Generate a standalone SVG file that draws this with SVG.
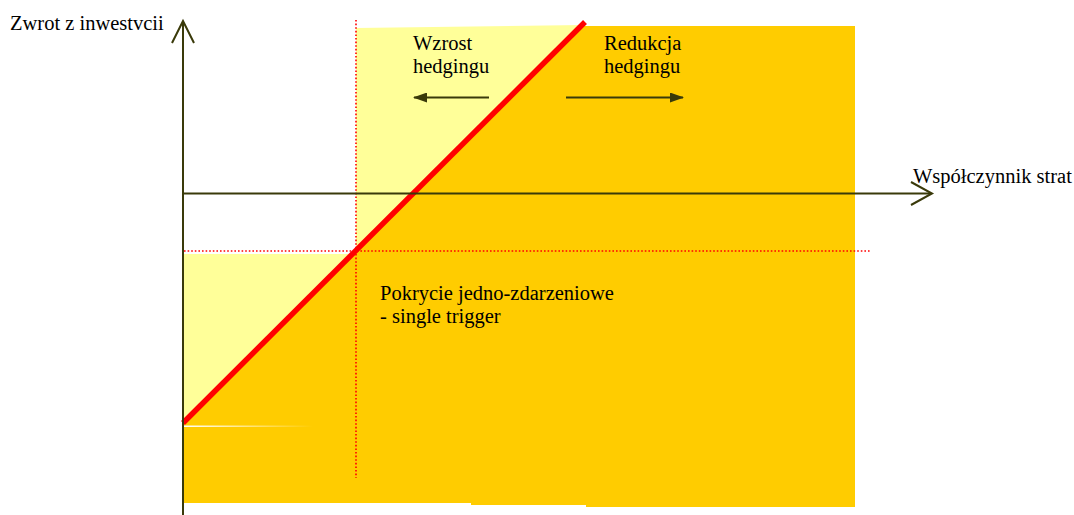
<svg xmlns="http://www.w3.org/2000/svg" width="1074" height="515" viewBox="0 0 1074 515">
<defs>
<style>
.t{font-family:"Liberation Serif","Times New Roman",serif;font-size:20.5px;fill:#000}
.ax{stroke:#3a3a0a;stroke-width:2;fill:none}
.dot{stroke:#ff0000;stroke-width:1.6;stroke-dasharray:1.6 2;fill:none}
</style>
<linearGradient id="wg" x1="0" x2="1" y1="0" y2="0">
<stop offset="0" stop-color="#ffffff"/>
<stop offset="1" stop-color="#ffffff" stop-opacity="0"/>
</linearGradient>
<marker id="ah" viewBox="0 0 14 10" refX="13" refY="5" markerWidth="14" markerHeight="10" markerUnits="userSpaceOnUse" orient="auto">
<path d="M0,0 L14,5 L0,10 z" fill="#3a3a0a"/>
</marker>
</defs>
<g id="background">
<polygon points="356,28 583,25 183,425 183,254 356,254" fill="#ffff99"/>
<polygon points="580,26 855,26 855,507 586,507 586,505 471,505 471,503 183,503 183,423" fill="#ffcc00"/>
<rect x="183" y="425.5" width="130" height="1.5" fill="url(#wg)"/>
</g>
<g id="guides">
<line class="dot" x1="356" y1="20" x2="356" y2="478"/>
<line class="dot" x1="184" y1="251" x2="871" y2="251"/>
</g>
<g id="red-line">
<line x1="183" y1="423" x2="585" y2="22" stroke="#ff0000" stroke-width="5.5"/>
</g>
<g id="connectors">
<g id="y-axis">
<line class="ax" x1="183" y1="515" x2="183" y2="21"/>
<polyline class="ax" points="172,43 183,21 194,43"/>
</g>
<g id="x-axis">
<line class="ax" x1="183" y1="193.5" x2="931" y2="193.5"/>
<polyline class="ax" points="911,182 932,193.5 911,205"/>
</g>
<line id="arrow-left" x1="489" y1="97.5" x2="414" y2="97.5" stroke="#3a3a0a" stroke-width="2" marker-end="url(#ah)"/>
<line id="arrow-right" x1="566" y1="97.5" x2="683" y2="97.5" stroke="#3a3a0a" stroke-width="2" marker-end="url(#ah)"/>
</g>
<g id="label-y"><text class="t" x="10" y="30">Zwrot z inwestvcii</text></g>
<g id="label-x"><text class="t" x="913" y="183">Współczynnik strat</text></g>
<g id="label-wzrost"><text class="t" x="413" y="50">Wzrost</text><text class="t" x="413" y="73">hedgingu</text></g>
<g id="label-redukcja"><text class="t" x="604" y="50">Redukcja</text><text class="t" x="604" y="73">hedgingu</text></g>
<g id="label-pokrycie"><text class="t" x="380" y="300">Pokrycie jedno-zdarzeniowe</text><text class="t" x="380" y="323">- single trigger</text></g>
</svg>
